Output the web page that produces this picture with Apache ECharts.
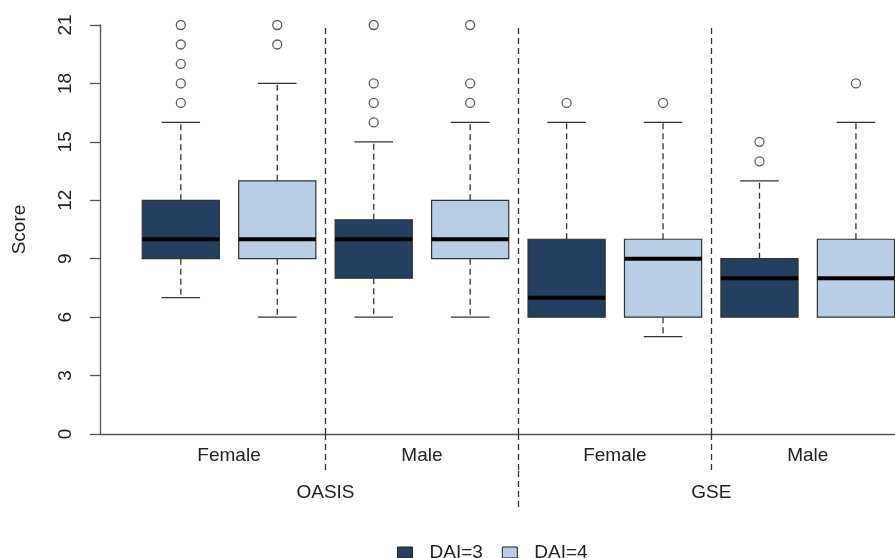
<!DOCTYPE html>
<html>
<head>
<meta charset="utf-8">
<script src="https://cdn.jsdelivr.net/npm/echarts@6/dist/echarts.min.js"></script>
<style>
  html, body { margin: 0; padding: 0; background: #fff; }
  #chart { width: 895px; height: 558px; }
</style>
</head>
<body>
<div id="chart"></div>
<script>
// ---------- data ----------
const studies = ['OASIS', 'GSE'];
const sexes = ['Female', 'Male', 'Female', 'Male'];
const seriesNames = ['DAI=3', 'DAI=4'];
// [lower whisker, Q1, median, Q3, upper whisker] per sex/study group
const dai3Stats = [[7, 9, 10, 12, 16], [6, 8, 10, 11, 15], [6, 6, 7, 10, 16], [6, 6, 8, 9, 13]];
const dai4Stats = [[6, 9, 10, 13, 18], [6, 9, 10, 12, 16], [5, 6, 9, 10, 16], [6, 6, 8, 10, 16]];
const dai3Outliers = [[17, 18, 19, 20, 21], [16, 17, 18, 21], [17], [14, 15]];
const dai4Outliers = [[20, 21], [17, 18, 21], [17], [18]];
const yTicks = [0, 3, 6, 9, 12, 15, 18, 21];

// ---------- styles ----------
const colors = ['#243F60', '#B9CDE5'];
const FONT = 'Liberation Sans, Arial, sans-serif';
const TXT = '#222';
const LINE = '#333';
const FS = 19;

// position of box j (0 = DAI=3, 1 = DAI=4) in group g
const pos = (g, j) => 2 * g + 1 + j;

function boxData(stats, j) {
  return stats.map((s, g) => [pos(g, j)].concat(s));
}
function outData(outs, j) {
  const r = [];
  outs.forEach((arr, g) => arr.forEach(v => r.push([pos(g, j), v])));
  return r;
}

function renderBox(params, api) {
  const x = api.value(0);
  const lo = api.value(1), q1 = api.value(2), md = api.value(3), q3 = api.value(4), hi = api.value(5);
  const halfW = api.size([0.8, 0])[0] / 2;
  const capHalf = halfW / 2;
  const pLo = api.coord([x, lo]), pQ1 = api.coord([x, q1]), pMd = api.coord([x, md]);
  const pQ3 = api.coord([x, q3]), pHi = api.coord([x, hi]);
  const cx = pMd[0];
  const fill = api.visual('color');
  const dashStyle = { stroke: LINE, lineWidth: 1.3, lineDash: [6, 4] };
  const solid = { stroke: LINE, lineWidth: 1.3 };
  const children = [];
  if (hi > q3) {
    children.push({ type: 'line', shape: { x1: cx, y1: pQ3[1], x2: cx, y2: pHi[1] }, style: dashStyle });
  }
  children.push({ type: 'line', shape: { x1: cx - capHalf, y1: pHi[1], x2: cx + capHalf, y2: pHi[1] }, style: solid });
  if (lo < q1) {
    children.push({ type: 'line', shape: { x1: cx, y1: pQ1[1], x2: cx, y2: pLo[1] }, style: dashStyle });
    children.push({ type: 'line', shape: { x1: cx - capHalf, y1: pLo[1], x2: cx + capHalf, y2: pLo[1] }, style: solid });
  }
  children.push({
    type: 'rect',
    shape: { x: cx - halfW, y: pQ3[1], width: 2 * halfW, height: pQ1[1] - pQ3[1] },
    style: { fill: fill, stroke: LINE, lineWidth: 1.2 }
  });
  children.push({ type: 'line', shape: { x1: cx - halfW, y1: pMd[1], x2: cx + halfW, y2: pMd[1] }, style: { stroke: '#000', lineWidth: 4 } });
  return { type: 'group', children: children };
}

const xMin = 0.162, xMax = 8.405;

const chart = echarts.init(document.getElementById('chart'), null, { renderer: 'canvas' });
const option = {
  animation: false,
  backgroundColor: '#fff',
  textStyle: { fontFamily: FONT },
  grid: { left: 100, right: 0, top: 25, bottom: 124, containLabel: false },
  xAxis: [
    {
      type: 'value', min: xMin, max: xMax, position: 'bottom',
      axisLine: { show: true, onZero: false, lineStyle: { color: '#555', width: 1.3 } },
      axisTick: { show: true, customValues: [2.5, 4.5, 6.5], length: 37, lineStyle: { color: LINE, width: 1.3, type: [6, 4] } },
      axisLabel: {
        show: true, customValues: [1.5, 3.5, 5.5, 7.5], margin: 12,
        fontSize: FS, color: TXT, fontFamily: FONT,
        formatter: v => sexes[Math.round((v - 1.5) / 2)]
      },
      splitLine: { show: false }
    },
    {
      type: 'value', min: xMin, max: xMax, position: 'bottom', offset: 37,
      axisLine: { show: true, onZero: false, lineStyle: { color: '#fff', width: 0, opacity: 0 } },
      axisTick: { show: true, customValues: [4.5], length: 37, lineStyle: { color: LINE, width: 1.3, type: [6, 4] } },
      axisLabel: {
        show: true, customValues: [2.5, 6.5], margin: 12,
        fontSize: FS, color: TXT, fontFamily: FONT,
        formatter: v => studies[Math.round((v - 2.5) / 4)]
      },
      splitLine: { show: false }
    }
  ],
  yAxis: {
    type: 'value', min: yTicks[0], max: yTicks[yTicks.length - 1], interval: 3,
    name: 'Score', nameLocation: 'middle', nameGap: 71, nameRotate: 90,
    nameTextStyle: { fontSize: FS, color: TXT, fontFamily: FONT },
    axisLine: { show: true, lineStyle: { color: '#555', width: 1.3 } },
    axisTick: { show: true, length: 10, lineStyle: { color: '#555', width: 1.3 } },
    axisLabel: { rotate: 90, margin: 25, fontSize: FS, color: TXT, fontFamily: FONT },
    splitLine: { show: false }
  },
  legend: {
    left: 392, top: 538,
    itemWidth: 15, itemHeight: 11, itemGap: 19,
    icon: 'rect',
    textStyle: { fontSize: FS, color: TXT, fontFamily: FONT, padding: [0, 0, 0, 12] },
    data: seriesNames.map((n, i) => ({ name: n, itemStyle: { color: colors[i], borderColor: '#222', borderWidth: 1 } }))
  },
  series: [
    {
      name: seriesNames[0], type: 'custom', renderItem: renderBox,
      itemStyle: { color: colors[0] },
      encode: { x: 0, y: [1, 2, 3, 4, 5] },
      data: boxData(dai3Stats, 0), clip: false, z: 3,
      markLine: {
        silent: true, symbol: 'none', label: { show: false },
        lineStyle: { color: LINE, width: 1.3, type: [6, 4] },
        data: [{ xAxis: 2.5 }, { xAxis: 4.5 }, { xAxis: 6.5 }]
      }
    },
    {
      name: seriesNames[1], type: 'custom', renderItem: renderBox,
      itemStyle: { color: colors[1] },
      encode: { x: 0, y: [1, 2, 3, 4, 5] },
      data: boxData(dai4Stats, 1), clip: false, z: 3
    },
    {
      name: 'out3', type: 'scatter', symbol: 'circle', symbolSize: 9,
      itemStyle: { color: '#fff', borderColor: LINE, borderWidth: 1.3 },
      data: outData(dai3Outliers, 0), clip: false, z: 4
    },
    {
      name: 'out4', type: 'scatter', symbol: 'circle', symbolSize: 9,
      itemStyle: { color: '#fff', borderColor: LINE, borderWidth: 1.3 },
      data: outData(dai4Outliers, 1), clip: false, z: 4
    }
  ]
};
chart.setOption(option);
</script>
</body>
</html>
